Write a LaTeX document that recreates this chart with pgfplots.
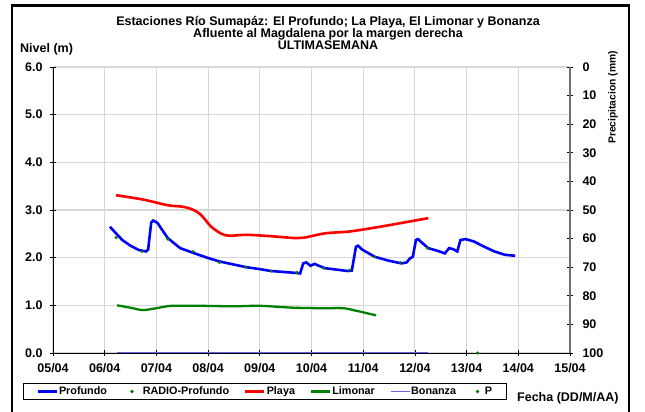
\documentclass[border=0pt]{standalone}
\usepackage{pgfplots}
\pgfplotsset{compat=1.18}
\usepackage{fontspec}
\setmainfont{Liberation Sans}
\definecolor{gridc}{RGB}{215,215,215}
\definecolor{bluep}{RGB}{0,0,255}
\definecolor{redp}{RGB}{255,0,0}
\definecolor{greenp}{RGB}{0,128,0}
\definecolor{bonz}{RGB}{100,100,225}
\definecolor{raxis}{RGB}{110,110,110}
\newcommand{\bigf}{\fontsize{12.5bp}{14bp}\selectfont\bfseries}
\newcommand{\legf}{\fontsize{10.8bp}{12bp}\selectfont\bfseries}
\pgfplotsset{
  dotlegA/.style={legend image code/.code={\path (0bp,0bp) (19bp,0bp);\draw[mark repeat=2,mark phase=2,##1] plot coordinates {(0bp,0bp)(9.5bp,0bp)(19bp,0bp)};}},
  dotlegB/.style={legend image code/.code={\path (0bp,0bp) (12bp,0bp);\draw[mark repeat=2,mark phase=2,##1] plot coordinates {(0bp,0bp)(6bp,0bp)(12bp,0bp)};}},
}
\begin{document}
\begin{tikzpicture}[x=1bp,y=1bp]
\path[use as bounding box] (0,0) rectangle (645,411);
\fill[white] (0,0) rectangle (645,411);
\begin{axis}[
  at={(53bp,58bp)}, anchor=south west, scale only axis,
  width=517bp, height=286bp,
  xmin=5, xmax=15, ymin=0, ymax=6,
  clip=false,
  axis x line*=bottom, axis y line*=left,
  axis line style={-, black, line width=1bp},
  xtick={5,...,15},
  xticklabels={05/04,06/04,07/04,08/04,09/04,10/04,11/04,12/04,13/04,14/04,15/04},
  ytick={0,1,...,6},
  tick align=center, major tick length=6bp,
  tick style={black, line width=0.8bp},
  grid=major, major grid style={gridc, line width=1.1bp},
  /pgf/number format/assume math mode=true,
  xticklabel style={font=\bigf, yshift=-4bp},
  yticklabel style={font=\bigf, xshift=-4bp, /pgf/number format/.cd, fixed, fixed zerofill, precision=1},
  legend columns=6,
  legend image code/.code={\draw[#1] (0bp,0bp) -- (19bp,0bp);},
  legend style={at={(-0.058,-0.1346)}, anchor=west, draw=black, line width=0.8bp,
    font=\legf, inner xsep=13bp, inner ysep=1bp,
    nodes={inner xsep=1bp},
    /tikz/every odd column/.append style={column sep=0bp},
    /tikz/every even column/.append style={column sep=14bp}},
]
\addplot[bluep, line width=2.6bp] coordinates {
(6.10,2.65)(6.16,2.58)(6.22,2.51)(6.34,2.37)(6.50,2.25)(6.66,2.16)(6.80,2.13)(6.84,2.17)
(6.90,2.74)(6.94,2.78)(7.02,2.73)(7.12,2.57)(7.22,2.41)(7.46,2.20)(7.74,2.09)(7.98,2.00)
(8.22,1.92)(8.48,1.86)(8.74,1.80)(9.00,1.76)(9.22,1.72)(9.46,1.70)(9.70,1.68)(9.78,1.67)
(9.84,1.88)(9.90,1.90)(9.98,1.83)(10.06,1.87)(10.14,1.83)(10.26,1.78)(10.48,1.75)(10.70,1.72)
(10.78,1.73)(10.86,2.23)(10.90,2.25)(10.98,2.17)(11.22,2.02)(11.48,1.94)(11.74,1.88)(11.84,1.90)
(11.90,1.98)(11.96,2.02)(12.02,2.37)(12.06,2.39)(12.14,2.31)(12.26,2.20)(12.42,2.15)(12.58,2.09)
(12.66,2.20)(12.74,2.18)(12.82,2.13)(12.88,2.37)(12.98,2.39)(13.14,2.34)(13.34,2.23)(13.54,2.13)
(13.74,2.06)(13.94,2.04)};
\addlegendentry{Profundo}
\addplot[only marks, mark=*, mark size=1.3bp, greenp, dotlegA] coordinates {
(6.22,2.42)(6.72,2.13)(7.22,2.39)(7.71,2.13)(8.22,1.90)(8.72,1.80)(9.22,1.72)(9.72,1.69)
(10.23,1.78)(10.74,1.74)(11.22,2.02)(11.72,1.90)(12.24,2.20)};
\addlegendentry{RADIO-Profundo}
\addplot[redp, line width=2.6bp, smooth] coordinates {
(6.22,3.31)(6.74,3.22)(7.22,3.10)(7.50,3.07)(7.70,3.01)(7.86,2.90)(8.06,2.65)(8.26,2.50)
(8.42,2.46)(8.74,2.48)(9.22,2.45)(9.70,2.41)(9.86,2.42)(10.26,2.51)(10.74,2.55)(11.22,2.63)
(11.70,2.72)(12.26,2.83)};
\addlegendentry{Playa}
\addplot[greenp, line width=2.3bp, smooth] coordinates {
(6.24,1.00)(6.50,0.95)(6.74,0.90)(7.00,0.94)(7.29,0.99)(7.84,0.99)(8.50,0.98)(9.00,0.99)
(9.65,0.95)(10.20,0.94)(10.61,0.94)(10.81,0.90)(11.25,0.79)};
\addlegendentry{Limonar}
\addplot[bonz, line width=1.2bp] coordinates {(6.23,0.01)(12.26,0.01)};
\addlegendentry{Bonanza}
\addplot[only marks, mark=*, mark size=1.3bp, greenp, dotlegB] coordinates {(13.21,0)};
\addlegendentry{P}
\end{axis}
\begin{axis}[
  at={(53bp,58bp)}, anchor=south west, scale only axis,
  width=517bp, height=286bp,
  xmin=5, xmax=15, ymin=0, ymax=100, y dir=reverse,
  axis x line=none, axis y line*=right,
  axis line style={-, raxis, line width=1.2bp},
  ytick={0,10,...,100},
  tick align=center, major tick length=6bp,
  tick style={black, line width=0.8bp},
  /pgf/number format/assume math mode=true,
  yticklabel style={font=\bigf, xshift=6bp},
]
\addplot[draw=none] coordinates {(5,0)(15,100)};
\end{axis}
\draw[black, line width=2.6bp] (12,-5) -- (12,405.5) -- (629,405.5) -- (629,-5);
\node[anchor=base, font=\bigf] at (328,386) {Estaciones Río Sumapáz: El Profundo; La Playa, El Limonar y Bonanza};
\node[anchor=base, font=\bigf] at (328,374) {Afluente al Magdalena por la margen derecha};
\node[anchor=base, font=\bigf] at (328,362) {ULTIMASEMANA};
\node[anchor=base west, font=\bigf, inner sep=0] at (20,358.7) {Nivel (m)};
\node[anchor=base west, font=\bigf, inner sep=0] at (517,10) {Fecha (DD/M/AA)};
\node[rotate=90, font=\fontsize{10.3bp}{11bp}\selectfont\bfseries, inner sep=0] at (613,313.5) {Precipitacion (mm)};
\end{tikzpicture}
\end{document}
